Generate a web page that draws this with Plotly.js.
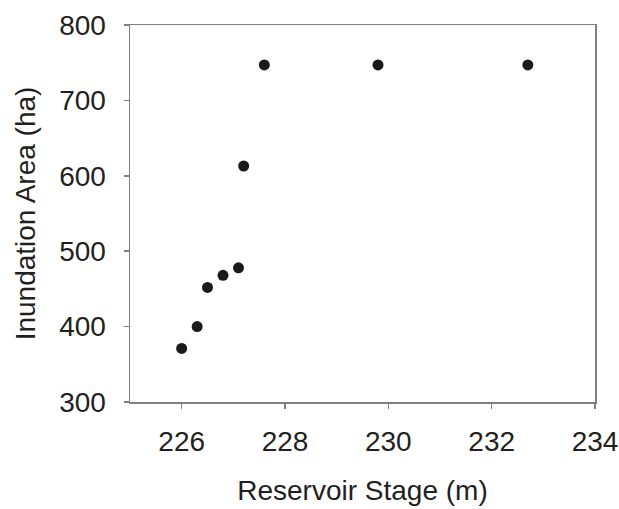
<!DOCTYPE html>
<html>
<head>
<meta charset="utf-8">
<script src="https://cdn.plot.ly/plotly-3.0.1.min.js"></script>
<style>html,body{margin:0;padding:0;background:#fff;}#chart{width:619px;height:509px;}</style>
</head>
<body>
<div id="chart"></div>
<script>
const stage = [226.0, 226.3, 226.5, 226.8, 227.1, 227.2, 227.6, 229.8, 232.7];
const area = [371, 400, 452, 468, 478, 613, 747, 747, 747];
const xTicks = [226, 228, 230, 232, 234];
const yTicks = [300, 400, 500, 600, 700, 800];

const font = {family: 'Liberation Sans, Arial, sans-serif', size: 28, color: '#231f20'};
const axisBase = {
  showgrid: false, zeroline: false, showline: true, linecolor: '#808080', linewidth: 1.5,
  ticks: 'outside', ticklen: 5, tickwidth: 1.5, tickcolor: '#808080',
  tickfont: font, automargin: false
};

const data = [{
  x: stage, y: area, type: 'scatter', mode: 'markers',
  marker: {size: 11, color: '#1a1a1a'}
}];

const layout = {
  width: 619, height: 509,
  margin: {l: 130, r: 24, t: 25, b: 107},
  paper_bgcolor: '#fff', plot_bgcolor: '#fff',
  showlegend: false,
  xaxis: Object.assign({}, axisBase, {
    range: [225, 234], tickvals: xTicks, ticktext: xTicks.map(String),
    mirror: true, ticklabelstandoff: 9,
    title: {text: 'Reservoir Stage (m)', font: font, standoff: 24}
  }),
  yaxis: Object.assign({}, axisBase, {
    range: [300, 800], tickvals: yTicks, ticktext: yTicks.map(String),
    mirror: true, ticklabelstandoff: 12,
    title: {text: 'Inundation Area (ha)', font: font, standoff: 15}
  })
};

Plotly.newPlot('chart', data, layout, {displayModeBar: false, staticPlot: true});
</script>
</body>
</html>
